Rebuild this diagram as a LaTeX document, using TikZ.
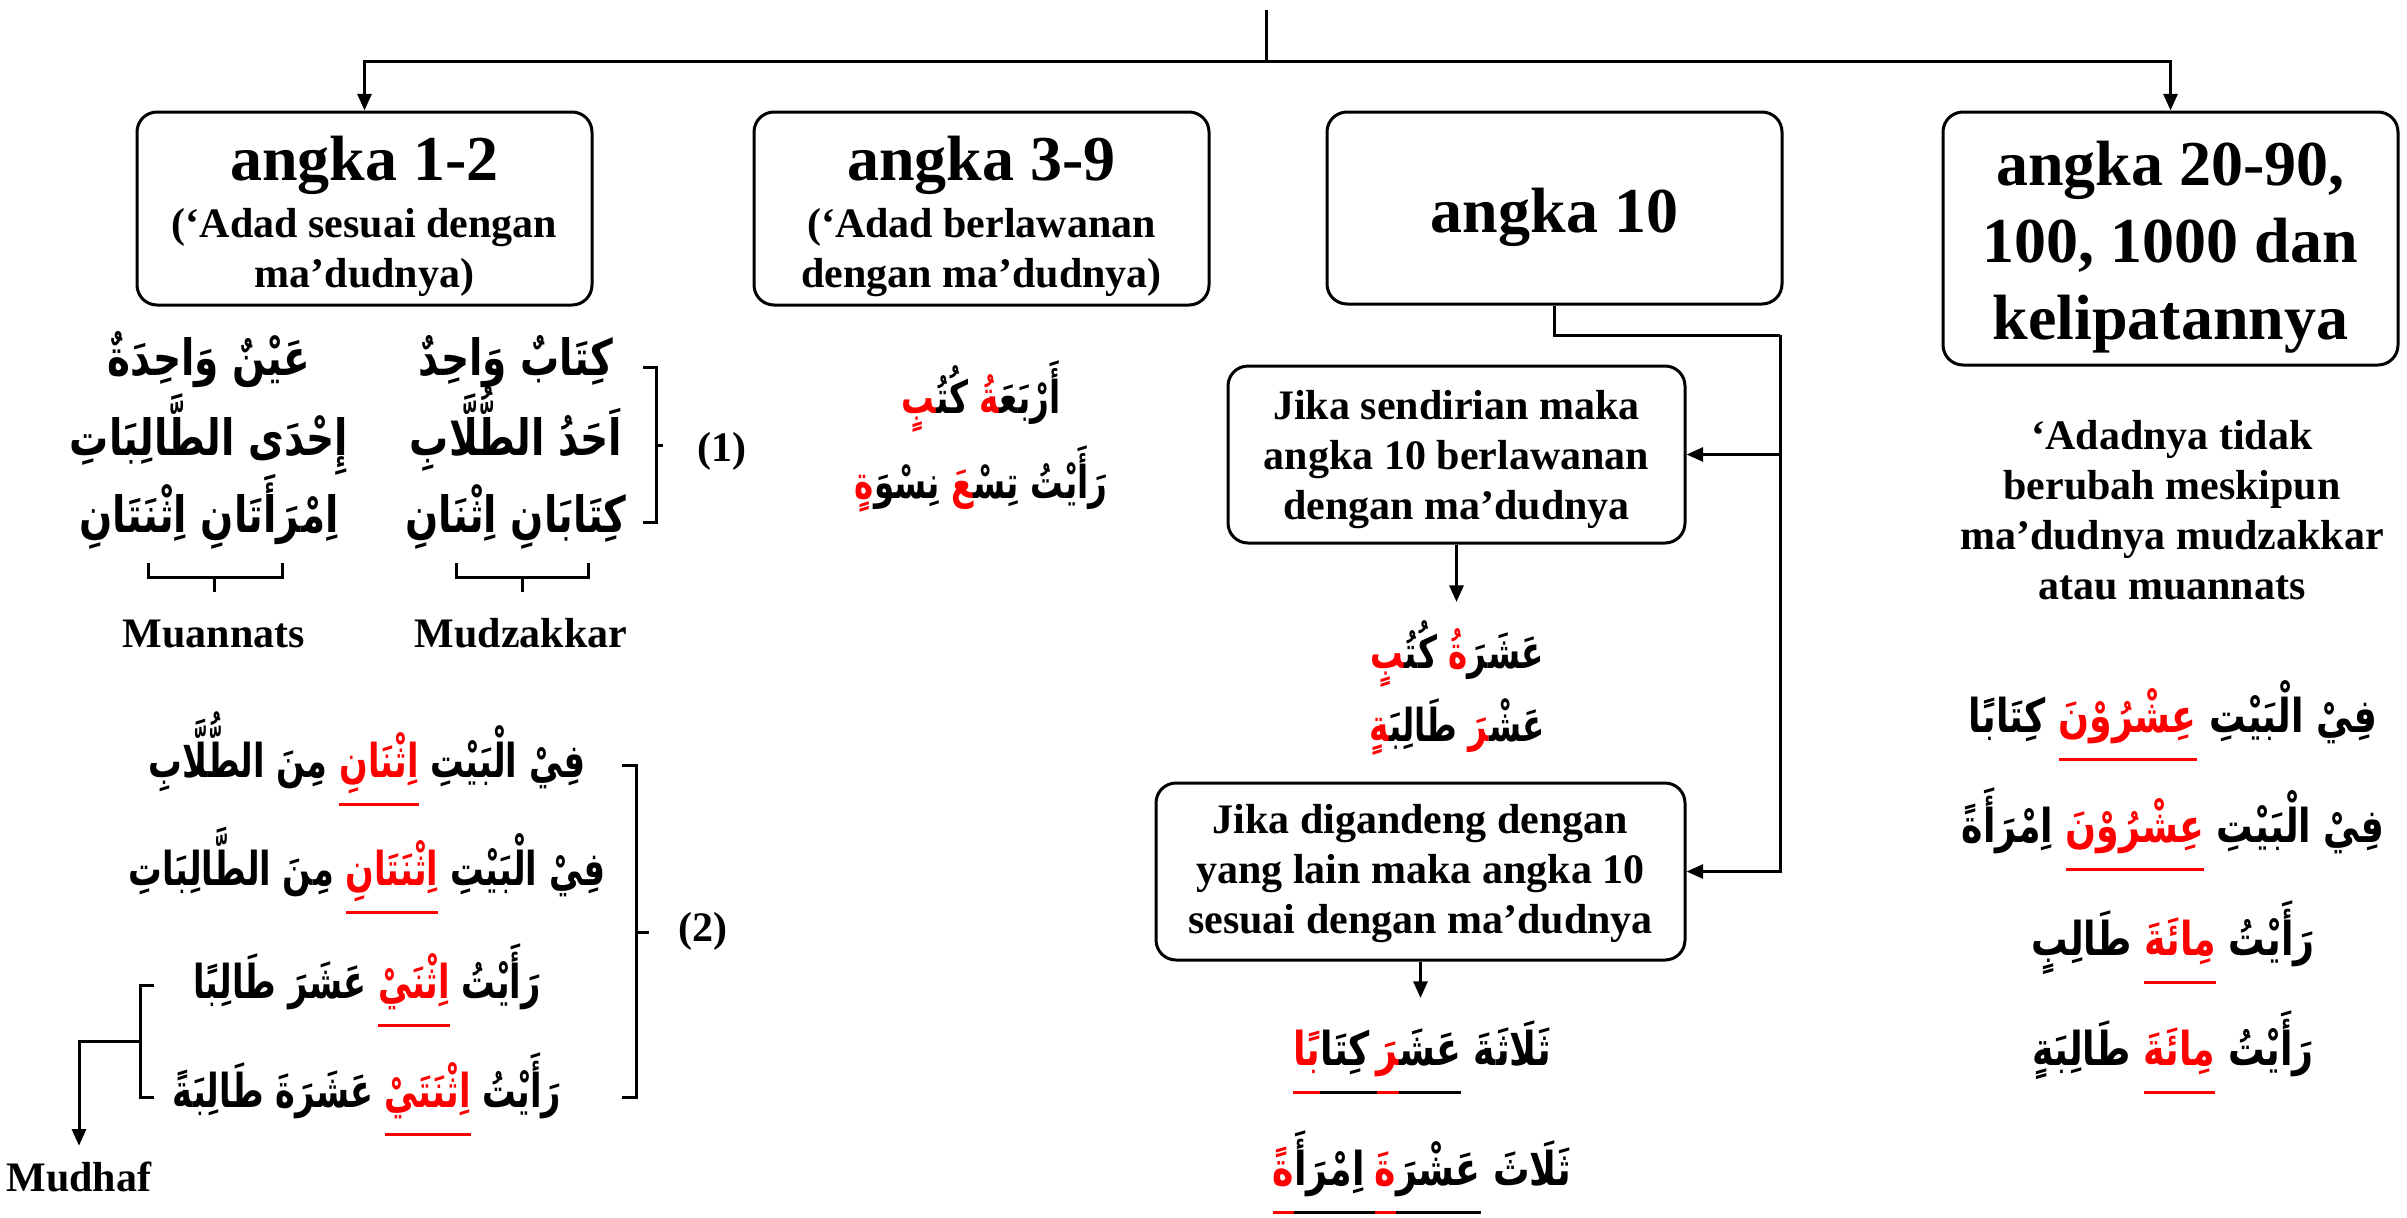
\documentclass[tikz,border=0pt]{standalone}
\usepackage{fontspec}
\setmainfont{Liberation Serif}
\newfontfamily\arab[Script=Arabic,FakeStretch=0.78]{DejaVu Sans Bold}
\newfontfamily\arabn[Script=Arabic,FakeStretch=0.72]{DejaVu Sans Bold}
\usetikzlibrary{arrows.meta}
\definecolor{ared}{RGB}{255,0,0}
\newcommand{\zj}{^^^^200d}
\newbox\arulbox
\newcommand{\arul}[2]{\setbox\arulbox\hbox{#2}\rlap{\color{#1}\rule[-8.8pt]{\wd\arulbox}{0.9pt}}\box\arulbox}
\newcommand{\redt}[1]{\textcolor{ared}{#1}}
\newcommand{\ttlfont}{\fontsize{19.2pt}{23.1pt}\selectfont\bfseries}
\newcommand{\txtfont}{\fontsize{12.6pt}{15pt}\selectfont\bfseries}
\newcommand{\arfont}{\fontsize{14pt}{17pt}\selectfont\arab}
\newcommand{\arbigfont}{\fontsize{15pt}{18pt}\selectfont\arab}
\newcommand{\arnfont}{\fontsize{14pt}{17pt}\selectfont\arabn}
\newcommand{\armfont}{\fontsize{13.6pt}{16pt}\selectfont\arabn}
\tikzset{
  line/.style={line width=0.9pt},
  arr/.style={line width=0.9pt,-{Triangle[length=5pt,width=4.2pt]}},
  box/.style={draw,line width=0.9pt,rounded corners=6pt,inner sep=0pt},
  btxt/.style={align=center,inner sep=0pt,font=\txtfont},
  ttl/.style={align=center,inner sep=0pt,font=\ttlfont},
  ar/.style={inner sep=0pt,anchor=base,font=\arfont},
  arbig/.style={ar,font=\arbigfont},
  arn/.style={ar,font=\arnfont},
  arm/.style={ar,font=\armfont},
  lab/.style={inner sep=0pt,anchor=base,font=\txtfont}
}
\begin{document}
\begin{tikzpicture}[x=0.3pt,y=-0.3pt]
\useasboundingbox (0,0) rectangle (2407,1217);
\fill[white] (0,0) rectangle (2407,1217);

% main boxes
\node[box,minimum width=136.5pt,minimum height=57.9pt] (b1) at (364.5,208.5) {};
\node[btxt] (b1t) at (364.5,216.4) {{\ttlfont angka 1-2}\\[2.1pt](‘Adad sesuai dengan\\ma’dudnya)};
\node[box,minimum width=136.5pt,minimum height=57.9pt] (b2) at (981.5,208.5) {};
\node[btxt] (b2t) at (981.5,216.4) {{\ttlfont angka 3-9}\\[2.1pt](‘Adad berlawanan\\dengan ma’dudnya)};
\node[box,minimum width=136.5pt,minimum height=57.6pt] (b3) at (1554.5,208) {};
\node[ttl] (b3t) at (1554.5,217.3) {angka 10};
\node[box,minimum width=136.5pt,minimum height=75.9pt] (b4) at (2170.5,238.5) {};
\node[ttl] (b4t) at (2170.5,246.8) {angka 20-90,\\100, 1000 dan\\kelipatannya};

% sub boxes
\node[box,minimum width=137.1pt,minimum height=53.1pt] (j1) at (1456.5,454.5) {};
\node[btxt] (j1t) at (1456.5,459.4) {Jika sendirian maka\\angka 10 berlawanan\\dengan ma’dudnya};
\node[box,minimum width=158.7pt,minimum height=53.1pt] (j2) at (1420.5,871.5) {};
\node[btxt] (j2t) at (1420.5,873.4) {Jika digandeng dengan\\yang lain maka angka 10\\sesuai dengan ma’dudnya};

% top connectors
\coordinate (top) at (1266,10);
\coordinate (hub) at (1266,61.5);
\draw[line] (top) -- (hub);
\draw[arr] (hub) -| (b1.north);
\draw[arr] (hub) -| (b4.north);

% angka 10 connectors
\coordinate (rail) at (1780,335);
\draw[line] (b3.south) |- (rail);
\draw[arr] (rail) |- (j2.east);
\draw[arr] (rail |- j1.east) -- (j1.east);
\coordinate (s1top) at (1456.5,602);
\draw[arr] (j1.south) -- (s1top);
\coordinate (d1top) at (1420.5,998);
\draw[arr] (j2.south) -- (d1top);

% angka 1-2 examples
\node[arbig] (r1) at (516,375) {وَاحِدٌ كِتَابٌ};
\node[arbig] (r2) at (516,455) {الطُّلَّابِ اَحَدُ};
\node[arbig] (r3) at (516,532) {اِثْنَانِ كِتَابَانِ};
\node[arbig] (l1) at (209,375) {وَاحِدَةٌ عَيْنٌ};
\node[arbig] (l2) at (209,455) {الطَّالِبَاتِ إِحْدَى};
\node[arbig] (l3) at (209,532) {اِثْنَتَانِ اِمْرَأَتَانِ};
\draw[line] (643,367) -- (656,367) -- (656,522) -- (643,522);
\draw[line] (656,445) -- (663,445);
\node[lab] (n1) at (722,461) {(1)};
\draw[line] (148,563) -- (148,577) -- (282,577) -- (282,563);
\draw[line] (214,577) -- (214,592);
\draw[line] (456,563) -- (456,577) -- (588,577) -- (588,563);
\draw[line] (522,577) -- (522,592);
\node[lab] (mua) at (214,647) {Muannats};
\node[lab] (mud) at (521,647) {Mudzakkar};

% angka 1-2 sentences
\node[arn] (s2a) at (367,777) {الطُّلَّابِ مِنَ \arul{ared}{\redt{اِثْنَانِ}} الْبَيْتِ فِيْ};
\node[arn] (s2b) at (367,885) {الطَّالِبَاتِ مِنَ \arul{ared}{\redt{اِثْنَتَانِ}} الْبَيْتِ فِيْ};
\node[arn] (s2c) at (367,998) {طَالِبًا عَشَرَ \arul{ared}{\redt{اِثْنَيْ}} رَأَيْتُ};
\node[arn] (s2d) at (367,1107) {طَالِبَةً عَشَرَةَ \arul{ared}{\redt{اِثْنَتَيْ}} رَأَيْتُ};
\draw[line] (622,765) -- (636,765) -- (636,1097) -- (622,1097);
\draw[line] (636,932) -- (649,932);
\node[lab] (n2) at (703,941) {(2)};
\draw[line] (154,985) -- (140,985) -- (140,1097) -- (154,1097);
\coordinate (brk) at (140,1041);
\node[lab] (mdh) at (79,1191) {Mudhaf};
\draw[arr,shorten >=4.5pt] (brk) -| (mdh.north);

% angka 3-9 examples
\node[arm] (a1) at (981,413) {\redt{\zj بٍ}كُتُ\zj{} \redt{\zj ةُ}أَرْبَعَ\zj};
\node[arm] (a2) at (981,498) {\redt{ةٍ}نِسْوَ \redt{\zj عَ}تِسْ\zj{} رَأَيْتُ};

% angka 10 examples
\node[arm] (e1) at (1457,668) {\redt{\zj بٍ}كُتُ\zj{} \redt{ةُ}عَشَرَ};
\node[arm] (e2) at (1457,741) {\redt{\zj ةٍ}طَالِبَ\zj{} \redt{\zj رَ}عَشْ\zj};
\node[ar] (f1) at (1422,1065) {\arul{ared}{\redt{بًا}}\arul{black}{كِتَا}\arul{black}{\hspace{2pt}}\arul{ared}{\redt{\zj رَ}}\arul{black}{عَشَ\zj} ثَلَاثَةَ};
\node[ar] (f2) at (1422,1185) {\arul{ared}{\redt{ةً}}\arul{black}{اِمْرَأَ}\arul{black}{\hspace{3pt}}\arul{ared}{\redt{ةَ}}\arul{black}{عَشْرَ} ثَلَاثَ};

% angka 20-90 text and examples
\node[btxt] (b4d) at (2172,509.8) {‘Adadnya tidak\\berubah meskipun\\ma’dudnya mudzakkar\\atau muannats};
\node[ar] (c1) at (2173,732) {كِتَابًا \arul{ared}{\redt{عِشْرُوْنَ}} الْبَيْتِ فِيْ};
\node[ar] (c2) at (2173,842) {اِمْرَأَةً \arul{ared}{\redt{عِشْرُوْنَ}} الْبَيْتِ فِيْ};
\node[ar] (c3) at (2173,955) {طَالِبٍ \arul{ared}{\redt{مِائَةَ}} رَأَيْتُ};
\node[ar] (c4) at (2173,1065) {طَالِبَةٍ \arul{ared}{\redt{مِائَةَ}} رَأَيْتُ};
\end{tikzpicture}
\end{document}
